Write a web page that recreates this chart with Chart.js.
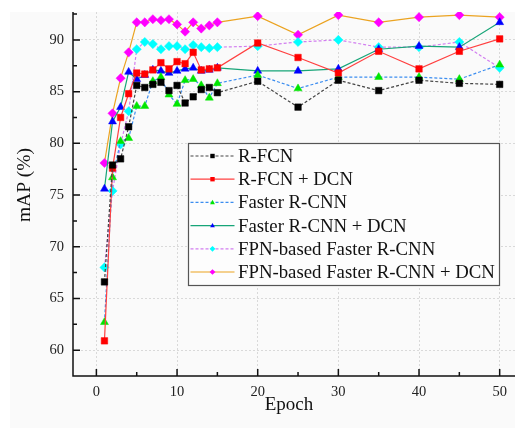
<!DOCTYPE html>
<html>
<head>
<meta charset="utf-8">
<script src="https://cdn.jsdelivr.net/npm/chart.js@4"></script>
<style>
  html, body { margin: 0; padding: 0; background: #fff; }
  canvas { display: block; }
</style>
</head>
<body>
<canvas id="mapChart" width="515" height="430"></canvas>
<script>
// --- Data: mAP (%) per training epoch ---
const epochs = [1, 2, 3, 4, 5, 6, 7, 8, 9, 10, 11, 12, 13, 14, 15, 20, 25, 30, 35, 40, 45, 50];

const rfcn       = [66.6, 77.9, 78.5, 81.6, 85.6, 85.4, 85.7, 85.9, 85.1, 85.6, 83.9, 84.5, 85.2, 85.4, 84.9, 86.0, 83.5, 86.1, 85.1, 86.1, 85.8, 85.7];
const rfcnDcn    = [60.9, 77.6, 82.5, 84.8, 86.8, 86.7, 87.1, 87.8, 87.2, 87.9, 87.7, 88.8, 87.1, 87.2, 87.3, 89.7, 88.3, 86.8, 88.9, 87.2, 88.9, 90.1];
const faster     = [62.7, 76.7, 80.2, 80.5, 83.6, 83.6, 86.0, 86.4, 84.7, 83.8, 86.1, 86.2, 85.6, 84.4, 85.8, 86.6, 85.3, 86.4, 86.4, 86.4, 86.2, 87.6];
const fasterDcn  = [75.6, 82.1, 83.5, 86.9, 86.2, 86.6, 87.1, 87.0, 86.8, 87.0, 87.2, 87.3, 87.0, 87.1, 87.3, 87.0, 87.0, 87.2, 89.1, 89.4, 89.3, 91.7];
const fpn        = [68.0, 75.4, 79.9, 83.1, 89.1, 89.8, 89.6, 89.1, 89.4, 89.4, 89.1, 89.5, 89.3, 89.2, 89.3, 89.4, 89.8, 90.0, 89.3, 89.3, 89.8, 87.3];
const fpnDcn     = [78.1, 82.9, 86.3, 88.8, 91.7, 91.7, 92.0, 91.9, 92.0, 91.5, 90.8, 91.7, 91.1, 91.4, 91.7, 92.3, 90.5, 92.4, 91.7, 92.2, 92.4, 92.2];

const seriesNames = [
  'R-FCN',
  'R-FCN + DCN',
  'Faster R-CNN',
  'Faster R-CNN + DCN',
  'FPN-based Faster R-CNN',
  'FPN-based Faster R-CNN + DCN'
];

const xTicks = [0, 10, 20, 30, 40, 50];
const yTicks = [60, 65, 70, 75, 80, 85, 90];

const FONT = "'Liberation Serif', 'Times New Roman', serif";

function pairs(values) {
  return epochs.map((e, i) => ({ x: e, y: values[i] }));
}

function series(label, values, line, marker, shape, radius, dash) {
  return {
    label: label,
    data: pairs(values),
    borderColor: line,
    borderWidth: 1.2,
    borderDash: dash,
    backgroundColor: marker,
    pointBackgroundColor: marker,
    pointBorderColor: marker,
    pointBorderWidth: 0.5,
    pointStyle: shape,
    pointRadius: radius,
    tension: 0,
    fill: false
  };
}

const datasets = [
  series(seriesNames[0], rfcn,      '#444444', '#000000', 'rect',     4.6, [3, 2]),
  series(seriesNames[1], rfcnDcn,   '#ff4040', '#ff0000', 'rect',     4.6, []),
  series(seriesNames[2], faster,    '#3b8df0', '#00e600', 'triangle', 4.6, [3, 2]),
  series(seriesNames[3], fasterDcn, '#17a578', '#0000ff', 'triangle', 4.6, []),
  series(seriesNames[4], fpn,       '#d27ef0', '#00ffff', 'rectRot',  4.6, [3, 2]),
  series(seriesNames[5], fpnDcn,    '#eba321', '#ff00ff', 'rectRot',  4.6, [])
];

// --- Background, axes with inward ticks, titles and the boxed legend ---
const frame = {
  id: 'frame',
  beforeDraw(chart) {
    const ctx = chart.ctx;
    ctx.save();
    ctx.fillStyle = '#ffffff';
    ctx.fillRect(0, 0, chart.width, chart.height);
    ctx.fillStyle = '#fafafa';
    ctx.fillRect(10, chart.chartArea.top, chart.width - 10, 428 - chart.chartArea.top);
    ctx.restore();
  },
  afterDraw(chart) {
    const ctx = chart.ctx;
    const area = chart.chartArea;
    const xs = chart.scales.x;
    const ys = chart.scales.y;

    ctx.save();
    ctx.strokeStyle = '#111';
    ctx.lineWidth = 1.5;
    ctx.setLineDash([]);

    // axis lines
    ctx.beginPath();
    ctx.moveTo(area.left, area.top);
    ctx.lineTo(area.left, area.bottom);
    ctx.lineTo(area.right, area.bottom);
    ctx.stroke();

    // x ticks: major every 10, minor halfway
    ctx.beginPath();
    xTicks.forEach(v => {
      const px = xs.getPixelForValue(v);
      ctx.moveTo(px, area.bottom);
      ctx.lineTo(px, area.bottom - 7);
      const pm = xs.getPixelForValue(v + 5);
      if (pm < area.right) {
        ctx.moveTo(pm, area.bottom);
        ctx.lineTo(pm, area.bottom - 4);
      }
    });
    // y ticks: major every 5, minor halfway
    yTicks.forEach(v => {
      const py = ys.getPixelForValue(v);
      ctx.moveTo(area.left, py);
      ctx.lineTo(area.left + 7, py);
      [v - 2.5, v + 2.5].forEach(m => {
        const pm = ys.getPixelForValue(m);
        if (pm > area.top && pm < area.bottom) {
          ctx.moveTo(area.left, pm);
          ctx.lineTo(area.left + 4, pm);
        }
      });
    });
    ctx.stroke();

    // axis titles
    ctx.fillStyle = '#111';
    ctx.font = '19px ' + FONT;
    ctx.textAlign = 'center';
    ctx.textBaseline = 'middle';
    ctx.fillText('Epoch', 289, 405);
    ctx.translate(25, 185);
    ctx.rotate(-Math.PI / 2);
    ctx.font = '19.5px ' + FONT;
    ctx.fillText('mAP (%)', 0, 0);
    ctx.restore();

    drawLegend(chart);
  }
};

function drawMarker(ctx, shape, x, y, r, color) {
  ctx.fillStyle = color;
  ctx.beginPath();
  if (shape === 'rect') {
    ctx.rect(x - r, y - r, 2 * r, 2 * r);
  } else if (shape === 'triangle') {
    ctx.moveTo(x, y - r * 1.2);
    ctx.lineTo(x + r * 1.1, y + r * 0.8);
    ctx.lineTo(x - r * 1.1, y + r * 0.8);
    ctx.closePath();
  } else {
    ctx.moveTo(x, y - r * 1.3);
    ctx.lineTo(x + r * 1.3, y);
    ctx.lineTo(x, y + r * 1.3);
    ctx.lineTo(x - r * 1.3, y);
    ctx.closePath();
  }
  ctx.fill();
}

function drawLegend(chart) {
  const ctx = chart.ctx;
  const box = { x: 188.5, y: 143.5, w: 311, h: 142 };
  const rowH = 23.2;
  ctx.save();
  ctx.fillStyle = '#fdfdfd';
  ctx.fillRect(box.x, box.y, box.w, box.h);
  ctx.strokeStyle = '#555';
  ctx.lineWidth = 1.2;
  ctx.strokeRect(box.x, box.y, box.w, box.h);

  ctx.font = '18.8px ' + FONT;
  ctx.textAlign = 'left';
  ctx.textBaseline = 'middle';
  chart.data.datasets.forEach((ds, i) => {
    const cy = box.y + 12.5 + i * rowH;
    ctx.strokeStyle = ds.borderColor;
    ctx.lineWidth = 1.2;
    ctx.setLineDash(ds.borderDash);
    ctx.beginPath();
    ctx.moveTo(box.x + 2, cy);
    ctx.lineTo(box.x + 46, cy);
    ctx.stroke();
    ctx.setLineDash([]);
    drawMarker(ctx, ds.pointStyle, box.x + 24, cy, 2.2, ds.pointBackgroundColor);
    ctx.fillStyle = '#111';
    ctx.fillText(ds.label, box.x + 49.5, cy + 1);
  });
  ctx.restore();
}

const gridColor = '#d9d9d9';

new Chart(document.getElementById('mapChart'), {
  type: 'line',
  data: { datasets: datasets },
  options: {
    responsive: false,
    animation: false,
    devicePixelRatio: 1,
    layout: { autoPadding: false, padding: { top: 12, left: 0, right: 0, bottom: 0 } },
    plugins: {
      legend: { display: false },
      tooltip: { enabled: false }
    },
    scales: {
      x: {
        type: 'linear',
        min: -2.9,
        max: 51.9,
        afterFit: scale => {
          scale.height = 54;
          scale.paddingLeft = 0;
          scale.paddingRight = 0;
        },
        afterBuildTicks: scale => { scale.ticks = xTicks.map(v => ({ value: v })); },
        grid: { color: gridColor, lineWidth: 1, drawTicks: false },
        border: { display: false, dash: [2, 2] },
        ticks: {
          color: '#222',
          padding: 7,
          font: { family: FONT, size: 14.5 }
        }
      },
      y: {
        type: 'linear',
        min: 57.5,
        max: 92.7,
        afterFit: scale => {
          scale.width = 73;
          scale.paddingTop = 0;
          scale.paddingBottom = 0;
        },
        afterBuildTicks: scale => { scale.ticks = yTicks.map(v => ({ value: v })); },
        grid: { color: gridColor, lineWidth: 1, drawTicks: false },
        border: { display: false, dash: [2, 2] },
        ticks: {
          color: '#222',
          padding: 9,
          font: { family: FONT, size: 14.5 }
        }
      }
    }
  },
  plugins: [frame]
});
</script>
</body>
</html>
